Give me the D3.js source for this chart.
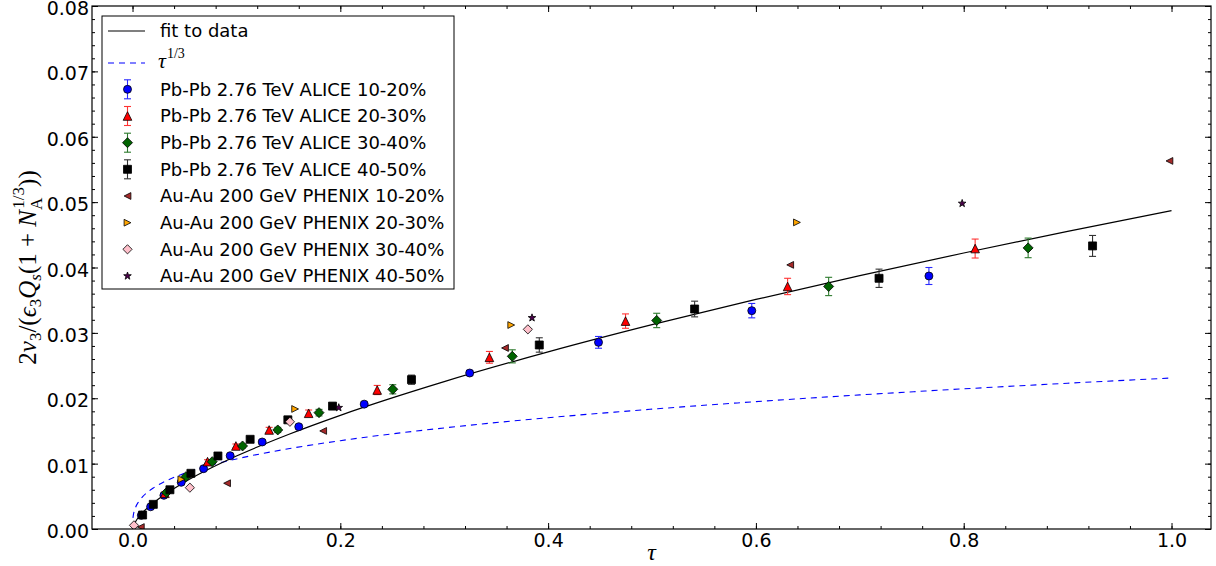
<!DOCTYPE html>
<html>
<head>
<meta charset="utf-8">
<script src="https://cdn.jsdelivr.net/npm/d3@7"></script>
<style>
  html, body { margin: 0; padding: 0; background: #fff; }
  svg { display: block; font-family: "DejaVu Sans", sans-serif; }
</style>
</head>
<body>
<svg id="chart" width="1216" height="566"></svg>
<script>
// ---- data ----
const xTicks = [0.0, 0.2, 0.4, 0.6, 0.8, 1.0]
const yTicks = [0.00, 0.01, 0.02, 0.03, 0.04, 0.05, 0.06, 0.07, 0.08]

// fit to data (black line), sampled along the curve
const fitTau = [0.001, 0.005, 0.01, 0.02, 0.03, 0.05, 0.075, 0.1, 0.15, 0.2, 0.3, 0.4, 0.5, 0.6, 0.7, 0.8, 0.9, 1.0]
const fitVal = [0.00059, 0.00164, 0.00256, 0.00398, 0.00516, 0.00716, 0.00928, 0.01116, 0.01446, 0.01739, 0.02254, 0.02709, 0.03125, 0.03512, 0.03876, 0.04222, 0.04552, 0.0487]

// tau^(1/3) (blue dashed), sampled along the curve
const cubeTau = [0.0004, 0.001, 0.003, 0.006, 0.01, 0.02, 0.03, 0.05, 0.075, 0.1, 0.15, 0.2, 0.3, 0.4, 0.5, 0.6, 0.7, 0.8, 0.9, 1.0]
const cubeVal = [0.0017, 0.00231, 0.00333, 0.0042, 0.00498, 0.00627, 0.00718, 0.00851, 0.00974, 0.01072, 0.01227, 0.01351, 0.01546, 0.01702, 0.01833, 0.01948, 0.02051, 0.02144, 0.0223, 0.0231]

// ALICE Pb-Pb 2.76 TeV
const alice1020Tau = [0.0085, 0.0174, 0.0302, 0.0469, 0.0684, 0.094, 0.1248, 0.160, 0.223, 0.3245, 0.4485, 0.596, 0.7665]
const alice1020Val = [0.0021, 0.0034, 0.00515, 0.00714, 0.00923, 0.01121, 0.01331, 0.01565, 0.0191, 0.02386, 0.02855, 0.0334, 0.0387]
const alice1020Err = [0.0001, 0.0001, 0.0001, 0.0002, 0.0002, 0.0002, 0.0003, 0.0003, 0.0003, 0.0004, 0.0009, 0.0011, 0.0013]

const alice2030Tau = [0.0312, 0.0722, 0.0995, 0.1315, 0.1695, 0.2355, 0.3435, 0.4745, 0.6305, 0.811]
const alice2030Val = [0.00546, 0.0103, 0.0127, 0.01515, 0.0177, 0.02126, 0.02626, 0.0318, 0.0371, 0.0429]
const alice2030Err = [0.0002, 0.0003, 0.0003, 0.0004, 0.0005, 0.0007, 0.0009, 0.0011, 0.00125, 0.00145]

const alice3040Tau = [0.0328, 0.0514, 0.0767, 0.1059, 0.1398, 0.1795, 0.2505, 0.3655, 0.5045, 0.670, 0.862]
const alice3040Val = [0.0056, 0.008, 0.0103, 0.0127, 0.01515, 0.0178, 0.02137, 0.02641, 0.0319, 0.0371, 0.0430]
const alice3040Err = [0.0002, 0.0002, 0.0003, 0.0003, 0.0004, 0.0005, 0.0007, 0.001, 0.0011, 0.0014, 0.0015]

const alice4050Tau = [0.0097, 0.020, 0.036, 0.0562, 0.0822, 0.1132, 0.1495, 0.1925, 0.2685, 0.3915, 0.541, 0.7185, 0.924]
const alice4050Val = [0.00214, 0.00377, 0.006, 0.00852, 0.01117, 0.01372, 0.0167, 0.0188, 0.02284, 0.02815, 0.03365, 0.03835, 0.0433]
const alice4050Err = [0.0001, 0.0002, 0.0002, 0.0002, 0.0003, 0.0003, 0.0004, 0.0004, 0.0007, 0.0011, 0.0012, 0.0014, 0.0016]

// PHENIX Au-Au 200 GeV
const phenix1020Tau = [0.008, 0.091, 0.1835, 0.3585, 0.633, 0.998]
const phenix1020Val = [0.0003, 0.007, 0.0150, 0.02769, 0.0404, 0.0563]

const phenix2030Tau = [0.047, 0.1565, 0.3645, 0.6395]
const phenix2030Val = [0.0076, 0.01836, 0.0312, 0.0469]

const phenix3040Tau = [0.0014, 0.0552, 0.1515, 0.3805]
const phenix3040Val = [0.00056, 0.00632, 0.0164, 0.03054]

const phenix4050Tau = [0.1985, 0.3845, 0.7985]
const phenix4050Val = [0.01856, 0.0323, 0.0498]

// ---- styles per series ----
const series = [
  {label: 'Pb-Pb 2.76 TeV ALICE 10-20%', tau: alice1020Tau, val: alice1020Val, err: alice1020Err, shape: 'circle', r: 4, fill: '#0000ff', bar: '#2a2aff'},
  {label: 'Pb-Pb 2.76 TeV ALICE 20-30%', tau: alice2030Tau, val: alice2030Val, err: alice2030Err, shape: 'triUp', r: 4.3, fill: '#ff0000', bar: '#ff3333'},
  {label: 'Pb-Pb 2.76 TeV ALICE 30-40%', tau: alice3040Tau, val: alice3040Val, err: alice3040Err, shape: 'diamond', r: 5, fill: '#006400', bar: '#2d7a2d'},
  {label: 'Pb-Pb 2.76 TeV ALICE 40-50%', tau: alice4050Tau, val: alice4050Val, err: alice4050Err, shape: 'square', r: 4, fill: '#000000', bar: '#333333'},
  {label: 'Au-Au 200 GeV PHENIX 10-20%', tau: phenix1020Tau, val: phenix1020Val, shape: 'triLeft', r: 3.4, fill: '#a52a2a'},
  {label: 'Au-Au 200 GeV PHENIX 20-30%', tau: phenix2030Tau, val: phenix2030Val, shape: 'triRight', r: 3.4, fill: '#ffa500'},
  {label: 'Au-Au 200 GeV PHENIX 30-40%', tau: phenix3040Tau, val: phenix3040Val, shape: 'diamond', r: 4.6, fill: '#ffc0cb'},
  {label: 'Au-Au 200 GeV PHENIX 40-50%', tau: phenix4050Tau, val: phenix4050Val, shape: 'star', r: 4, fill: '#4b004b'}
]

function markerPath(shape, r) {
  if (shape == 'circle') return d3.symbol(d3.symbolCircle, Math.PI * r * r)()
  if (shape == 'square') return `M${-r},${-r}h${2 * r}v${2 * r}h${-2 * r}Z`
  if (shape == 'diamond') return `M0,${-r}L${r},0L0,${r}L${-r},0Z`
  if (shape == 'triUp') return `M0,${-r}L${r},${r}L${-r},${r}Z`
  if (shape == 'triLeft') return `M${-r},0L${r},${-r}L${r},${r}Z`
  if (shape == 'triRight') return `M${r},0L${-r},${-r}L${-r},${r}Z`
  // 5 point star
  let pts = []
  for (let i = 0; i < 10; i++) {
    const rr = i % 2 == 0 ? r : r * 0.4
    const a = -Math.PI / 2 + i * Math.PI / 5
    pts.push([rr * Math.cos(a), rr * Math.sin(a)])
  }
  return 'M' + pts.map(p => p.join(',')).join('L') + 'Z'
}

const svg = d3.select('#chart')
const plotL = 92, plotR = 1211, plotT = 6, plotB = 529

const x = d3.scaleLinear().domain([-0.039, 1.038]).range([plotL, plotR])
const y = d3.scaleLinear().domain([0, 0.08]).range([plotB, plotT])

svg.append('defs').append('clipPath').attr('id', 'plot')
  .append('rect').attr('x', plotL).attr('y', plotT).attr('width', plotR - plotL).attr('height', plotB - plotT)

// ---- axes, ticks inward on all four sides ----
const xMinor = d3.range(0, 27).map(i => +(i * 0.04).toFixed(2)).filter(v => v <= 1.038)
const yMinor = d3.range(0, 41).map(i => +(i * 0.002).toFixed(3))

function tickAxis(axis, g) {
  g.call(axis)
  g.select('.domain').remove()
  g.selectAll('line').attr('stroke', '#000').attr('stroke-width', 1)
  return g
}

tickAxis(d3.axisBottom(x).tickValues(xTicks).tickFormat(d3.format('.1f')).tickSize(-6).tickPadding(5),
  svg.append('g').attr('transform', `translate(0,${plotB})`))
tickAxis(d3.axisBottom(x).tickValues(xMinor).tickFormat('').tickSize(-3),
  svg.append('g').attr('transform', `translate(0,${plotB})`))
tickAxis(d3.axisTop(x).tickValues(xTicks).tickFormat('').tickSize(-6),
  svg.append('g').attr('transform', `translate(0,${plotT})`))
tickAxis(d3.axisTop(x).tickValues(xMinor).tickFormat('').tickSize(-3),
  svg.append('g').attr('transform', `translate(0,${plotT})`))

const yAxisG = tickAxis(d3.axisLeft(y).tickValues(yTicks).tickFormat(d3.format('.2f')).tickSize(-6).tickPadding(3),
  svg.append('g').attr('transform', `translate(${plotL},0)`))
tickAxis(d3.axisLeft(y).tickValues(yMinor).tickFormat('').tickSize(-3),
  svg.append('g').attr('transform', `translate(${plotL},0)`))
tickAxis(d3.axisRight(y).tickValues(yTicks).tickFormat('').tickSize(-6),
  svg.append('g').attr('transform', `translate(${plotR},0)`))
tickAxis(d3.axisRight(y).tickValues(yMinor).tickFormat('').tickSize(-3),
  svg.append('g').attr('transform', `translate(${plotR},0)`))

svg.selectAll('.tick text')
  .attr('font-family', '"DejaVu Sans", sans-serif')
  .attr('font-size', 19)
  .attr('fill', '#000')
// matplotlib sits the y labels a touch lower than the tick
yAxisG.selectAll('.tick text').attr('dy', '0.45em')

// ---- curves ----
const plot = svg.append('g').attr('clip-path', 'url(#plot)')

const line = d3.line().x(d => x(d[0])).y(d => y(d[1])).curve(d3.curveMonotoneX)

plot.append('path')
  .attr('d', line(d3.zip(cubeTau, cubeVal)))
  .attr('fill', 'none').attr('stroke', '#0000ff').attr('stroke-width', 1.1)
  .attr('stroke-dasharray', '6,5')

plot.append('path')
  .attr('d', line(d3.zip(fitTau, fitVal)))
  .attr('fill', 'none').attr('stroke', '#000').attr('stroke-width', 1.2)

// ---- data points ----
series.forEach(s => {
  const g = plot.append('g')
  const pts = s.tau.map((t, i) => ({t: t, v: s.val[i], e: s.err ? s.err[i] : 0}))
  if (s.err) {
    const bars = g.selectAll('g.bar').data(pts).join('g')
      .attr('stroke', s.bar).attr('stroke-width', 1.1)
    bars.append('line')
      .attr('x1', d => x(d.t)).attr('x2', d => x(d.t))
      .attr('y1', d => y(d.v - d.e)).attr('y2', d => y(d.v + d.e))
    bars.append('line')
      .attr('x1', d => x(d.t) - 3.5).attr('x2', d => x(d.t) + 3.5)
      .attr('y1', d => y(d.v - d.e)).attr('y2', d => y(d.v - d.e))
    bars.append('line')
      .attr('x1', d => x(d.t) - 3.5).attr('x2', d => x(d.t) + 3.5)
      .attr('y1', d => y(d.v + d.e)).attr('y2', d => y(d.v + d.e))
  }
  g.selectAll('path.pt').data(pts).join('path')
    .attr('class', 'pt')
    .attr('d', markerPath(s.shape, s.r))
    .attr('transform', d => `translate(${x(d.t)},${y(d.v)})`)
    .attr('fill', s.fill).attr('stroke', '#000').attr('stroke-width', 0.8)
})

// frame
svg.append('rect')
  .attr('x', plotL).attr('y', plotT).attr('width', plotR - plotL).attr('height', plotB - plotT)
  .attr('fill', 'none').attr('stroke', '#000').attr('stroke-width', 1.2)

// ---- legend ----
const rowY = [31, 60, 89.3, 116, 142.7, 169.3, 196, 222.7, 249.3, 276]
const legend = svg.append('g')
legend.append('rect')
  .attr('x', 102).attr('y', 16).attr('width', 352).attr('height', 273)
  .attr('fill', '#fff').attr('stroke', '#000').attr('stroke-width', 1)

legend.append('line').attr('x1', 108).attr('x2', 145).attr('y1', rowY[0]).attr('y2', rowY[0])
  .attr('stroke', '#000').attr('stroke-width', 1.2)
legend.append('text').attr('x', 160).attr('y', rowY[0]).attr('dy', '0.36em')
  .attr('font-size', 18).text('fit to data')

legend.append('line').attr('x1', 108).attr('x2', 145).attr('y1', rowY[1] + 3).attr('y2', rowY[1] + 3)
  .attr('stroke', '#0000ff').attr('stroke-width', 1.1).attr('stroke-dasharray', '6,5')
const tauText = legend.append('text').attr('x', 158).attr('y', rowY[1] + 8)
  .attr('font-family', '"Liberation Serif", "DejaVu Serif", serif')
tauText.append('tspan').attr('font-style', 'italic').attr('font-size', 22).text('τ')
tauText.append('tspan').attr('font-size', 14).attr('dy', -10).attr('dx', 1).text('1/3')

series.forEach((s, i) => {
  const cy = rowY[i + 2]
  const g = legend.append('g').attr('transform', `translate(127.5,${cy})`)
  if (s.err) {
    const b = g.append('g').attr('stroke', s.bar).attr('stroke-width', 1.1)
    b.append('line').attr('x1', 0).attr('x2', 0).attr('y1', -9.5).attr('y2', 9.5)
    b.append('line').attr('x1', -3.5).attr('x2', 3.5).attr('y1', -9.5).attr('y2', -9.5)
    b.append('line').attr('x1', -3.5).attr('x2', 3.5).attr('y1', 9.5).attr('y2', 9.5)
  }
  g.append('path').attr('d', markerPath(s.shape, s.r))
    .attr('fill', s.fill).attr('stroke', '#000').attr('stroke-width', 0.8)
  legend.append('text').attr('x', 160).attr('y', cy).attr('dy', '0.36em')
    .attr('font-size', 18).text(s.label)
})

// ---- axis labels ----
svg.append('text')
  .attr('x', (plotL + plotR) / 2).attr('y', 560)
  .attr('text-anchor', 'middle')
  .attr('font-family', '"Liberation Serif", "DejaVu Serif", serif')
  .attr('font-style', 'italic').attr('font-size', 24)
  .text('τ')

const yl = svg.append('text')
  .attr('transform', `translate(36,${(plotT + plotB) / 2}) rotate(-90)`)
  .attr('text-anchor', 'middle')
  .attr('font-family', '"Liberation Serif", "DejaVu Serif", serif')
  .attr('font-size', 25)
const part = (txt, opts) => {
  const t = yl.append('tspan').text(txt)
  if (opts.it) t.attr('font-style', 'italic')
  if (opts.fs) t.attr('font-size', opts.fs)
  if (opts.dy) t.attr('dy', opts.dy)
  if (opts.dx) t.attr('dx', opts.dx)
  return t
}
part('2', {})
part('v', {it: true})
part('3', {fs: 17, dy: 5})
part('/(', {dy: -5})
part('ϵ', {it: true})
part('3', {fs: 17, dy: 5})
part('Q', {it: true, dy: -5})
part('s', {it: true, fs: 17, dy: 5})
part('(1 + ', {dy: -5})
part('N', {it: true})
part('A', {fs: 17, dy: 6})
part('1/3', {fs: 17, dy: -18, dx: -11})
part('))', {dy: 12})
</script>
</body>
</html>
